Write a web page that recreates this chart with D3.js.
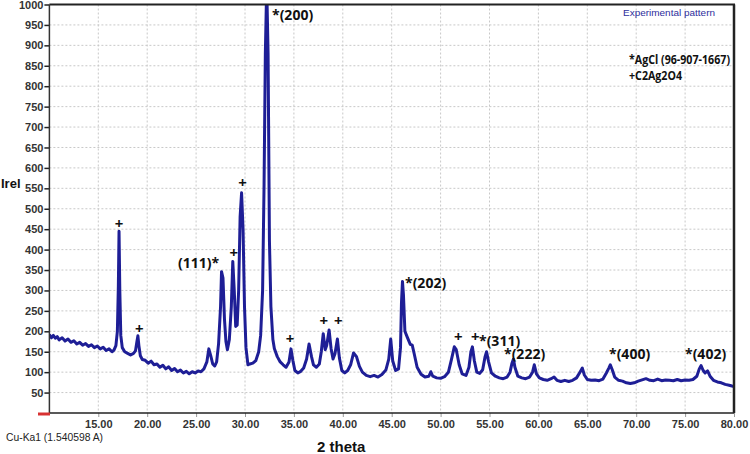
<!DOCTYPE html>
<meta charset="utf-8">
<script src="https://d3js.org/d3.v7.min.js"></script>
<style>
body { margin: 0; background: #fff; }
.tick text { font-family: "Liberation Sans", Arial, sans-serif; font-weight: bold; font-size: 11px; fill: #333; }
.ann { font-family: "Open Sans", sans-serif; font-weight: bold; font-size: 14px; fill: #111; }
</style>
<body></body>
<script>

// 2 theta positions (deg) and relative intensity
var twoTheta = [
  10.0, 10.2, 10.4, 10.6, 10.8, 11.0, 11.3, 11.6, 11.9, 12.2, 12.5, 12.8, 13.1, 13.4, 13.7,
  14.0, 14.3, 14.6, 14.9, 15.2, 15.5, 15.8, 16.1, 16.4, 16.6, 16.8, 16.95, 17.05, 17.12, 17.2,
  17.3, 17.45, 17.7, 18.0, 18.3, 18.6, 18.8, 18.95, 19.05, 19.15, 19.3, 19.5, 19.8, 20.1, 20.4,
  20.7, 21.0, 21.3, 21.6, 21.9, 22.2, 22.5, 22.8, 23.1, 23.4, 23.7, 24.0, 24.3, 24.6, 24.9,
  25.2, 25.5, 25.8, 26.1, 26.3, 26.5, 26.7, 26.9, 27.1, 27.3, 27.5, 27.6, 27.75, 27.9, 28.05,
  28.2, 28.4, 28.6, 28.75, 28.9, 29.05, 29.2, 29.35, 29.5, 29.65, 29.8, 29.95, 30.1, 30.3, 30.5,
  30.8, 31.1, 31.4, 31.6, 31.8, 31.95, 32.08, 32.18, 32.26, 32.36, 32.5, 32.65, 32.85, 33.0, 33.3,
  33.6, 33.9, 34.2, 34.5, 34.7, 34.9, 35.1, 35.4, 35.7, 36.0, 36.3, 36.55, 36.8, 37.0, 37.3,
  37.6, 37.8, 38.0, 38.2, 38.35, 38.6, 38.8, 39.0, 39.2, 39.45, 39.65, 39.9, 40.2, 40.5, 40.8,
  41.1, 41.4, 41.7, 42.0, 42.4, 42.8, 43.2, 43.6, 44.0, 44.4, 44.7, 44.9, 45.1, 45.4, 45.7,
  45.9, 46.0, 46.1, 46.2, 46.35, 46.6, 46.9, 47.1, 47.3, 47.6, 48.0, 48.4, 48.8, 49.0, 49.2,
  49.6, 50.0, 50.4, 50.8, 51.1, 51.4, 51.6, 51.9, 52.2, 52.6, 52.9, 53.1, 53.25, 53.45, 53.7,
  54.0, 54.3, 54.55, 54.7, 54.9, 55.2, 55.6, 56.0, 56.4, 56.8, 57.1, 57.3, 57.45, 57.6, 57.9,
  58.3, 58.7, 59.1, 59.4, 59.58, 59.8, 60.1, 60.5, 60.9, 61.3, 61.6, 61.9, 62.3, 62.7, 63.1,
  63.5, 63.9, 64.25, 64.49, 64.7, 65.0, 65.4, 65.8, 66.2, 66.6, 66.95, 67.2, 67.35, 67.55, 67.8,
  68.2, 68.6, 69.0, 69.4, 69.8, 70.2, 70.6, 71.0, 71.4, 71.8, 72.2, 72.6, 73.0, 73.4, 73.8,
  74.2, 74.6, 75.0, 75.4, 75.8, 76.2, 76.45, 76.63, 76.85, 77.05, 77.3, 77.55, 77.9, 78.3, 78.7,
  79.1, 79.5, 79.8, 80.0
];
var irel = [
  192, 184, 190, 183, 187, 179, 184, 176, 181, 173, 177, 169, 173, 166, 170,
  163, 167, 160, 164, 157, 161, 153, 157, 150, 154, 165, 200, 310, 445, 300,
  190, 160, 150, 146, 142, 146, 152, 175, 189, 165, 140, 131, 129, 122, 127,
  118, 120, 112, 117, 108, 113, 104, 109, 101, 105, 98, 102, 96, 101, 98,
  103, 101, 108, 125, 157, 140, 120, 115, 125, 170, 260, 346, 330, 230, 175,
  155, 180, 260, 371, 300, 212, 215, 300, 480, 539, 450, 260, 160, 118, 120,
  122, 128, 150, 190, 300, 560, 880, 1000, 1000, 880, 420, 260, 180, 158, 138,
  125, 118, 112, 125, 157, 128, 104, 98, 102, 110, 132, 169, 138, 118, 112,
  120, 150, 194, 155, 165, 203, 158, 132, 145, 181, 135, 104, 98, 104, 118,
  147, 138, 114, 100, 92, 89, 92, 88, 94, 105, 132, 181, 128, 104, 108,
  160, 270, 322, 290, 200, 185, 168, 166, 145, 112, 95, 88, 90, 101, 90,
  86, 85, 89, 100, 130, 162, 155, 118, 96, 92, 112, 150, 162, 128, 100,
  97, 106, 138, 150, 126, 98, 90, 86, 84, 88, 100, 122, 132, 112, 90,
  86, 84, 88, 100, 118, 96, 86, 82, 80, 84, 88, 80, 77, 80, 77,
  80, 86, 100, 110, 93, 82, 80, 81, 79, 83, 98, 110, 118, 106, 88,
  80, 78, 74, 72, 74, 78, 81, 84, 80, 79, 83, 79, 81, 80, 79,
  82, 79, 81, 80, 82, 90, 108, 116, 104, 98, 103, 90, 80, 76, 74,
  70, 68, 66, 65
];

var xTicks = [15, 20, 25, 30, 35, 40, 45, 50, 55, 60, 65, 70, 75, 80];
var yTicks = [50, 100, 150, 200, 250, 300, 350, 400, 450, 500, 550, 600, 650, 700, 750, 800, 850, 900, 950, 1000];

// peak labels
var peakLabels = ["*(200)", "(111)*", "*(202)", "*(311)", "*(222)", "*(400)", "*(402)"];
var plusMarks = [17.12, 19.2, 28.85, 29.75, 34.6, 38.05, 39.55, 51.8, 53.55];
var legendLines = ["*AgCl (96-907-1667)", "+C2Ag2O4"];

var W = 750, H = 454;
var plotL = 49.4, plotR = 734, plotT = 4.5, plotB = 413;

var svg = d3.select("body").append("svg")
    .attr("width", W)
    .attr("height", H);

var x = d3.scaleLinear().domain([10, 80]).range([plotL, plotR]);
var y = d3.scaleLinear().domain([0, 1000]).range([plotB, plotT]);

// grid
svg.append("g").selectAll("line").data(xTicks.slice(0, -1)).enter().append("line")
    .attr("x1", d => x(d)).attr("x2", d => x(d))
    .attr("y1", plotT).attr("y2", plotB)
    .attr("stroke", "#c8c8c8").attr("stroke-dasharray", "2,2");
svg.append("g").selectAll("line").data(yTicks.slice(0, -1)).enter().append("line")
    .attr("x1", plotL).attr("x2", plotR)
    .attr("y1", d => y(d)).attr("y2", d => y(d))
    .attr("stroke", "#c8c8c8").attr("stroke-dasharray", "2,2");

// axes
var xAxis = d3.axisBottom(x).tickValues(xTicks).tickFormat(d3.format(".2f")).tickSize(4).tickPadding(3);
var yAxis = d3.axisLeft(y).tickValues(yTicks).tickFormat(d3.format("d")).tickSize(5).tickPadding(1);

var gx = svg.append("g").attr("transform", "translate(0," + plotB + ")").call(xAxis);
gx.select(".domain").remove();
gx.selectAll(".tick line").attr("stroke", "#999");

var gy = svg.append("g").attr("transform", "translate(" + plotL + ",0)").call(yAxis);
gy.select(".domain").remove();
gy.selectAll(".tick line").attr("stroke", "#222").attr("stroke-width", 1.5);

// pattern
var pts = twoTheta.map((t, i) => [t, irel[i]]);
svg.append("clipPath").attr("id", "clip").append("rect")
    .attr("x", plotL).attr("y", plotT).attr("width", plotR - plotL).attr("height", plotB - plotT);
svg.append("path")
    .datum(pts)
    .attr("clip-path", "url(#clip)")
    .attr("fill", "none")
    .attr("stroke", "#1e1e96")
    .attr("stroke-width", 3)
    .attr("stroke-linejoin", "round")
    .attr("d", d3.line().x(d => x(d[0])).y(d => y(d[1])));

// frame
svg.append("line").attr("x1", plotL).attr("x2", plotR + 1).attr("y1", plotT).attr("y2", plotT)
    .attr("stroke", "#222").attr("stroke-width", 2);
svg.append("line").attr("x1", plotR).attr("x2", plotR).attr("y1", plotT).attr("y2", plotB)
    .attr("stroke", "#222").attr("stroke-width", 2.5);
svg.append("line").attr("x1", plotL).attr("x2", plotL).attr("y1", plotT).attr("y2", plotB)
    .attr("stroke", "#333").attr("stroke-width", 1.5);
svg.append("line").attr("x1", plotL).attr("x2", plotR).attr("y1", plotB).attr("y2", plotB)
    .attr("stroke", "#222").attr("stroke-width", 1.5);
svg.append("line").attr("x1", 38).attr("x2", 50).attr("y1", plotB + 1).attr("y2", plotB + 1)
    .attr("stroke", "#d83232").attr("stroke-width", 3);

// peak labels
var labelPos = {
  "*(200)": [272, 20], "(111)*": [178, 268], "*(202)": [405, 288], "*(311)": [479, 346],
  "*(222)": [504, 359], "*(400)": [609, 359], "*(402)": [685, 359]
};
svg.append("g").selectAll("text").data(peakLabels).enter().append("text")
    .attr("class", "ann")
    .attr("x", d => labelPos[d][0])
    .attr("y", d => labelPos[d][1])
    .text(d => d);

var plusY = {17.12: 229, 19.2: 334, 28.85: 258, 29.75: 188, 34.6: 344, 38.05: 326, 39.55: 326, 51.8: 342, 53.55: 342};
svg.append("g").selectAll("text").data(plusMarks).enter().append("text")
    .attr("class", "ann")
    .style("font-size", "15px")
    .attr("text-anchor", "middle")
    .attr("x", d => x(d))
    .attr("y", d => plusY[d])
    .text("+");

// legend
svg.append("g").selectAll("text").data(legendLines).enter().append("text")
    .attr("class", "ann")
    .style("font-size", "13px")
    .attr("x", 629)
    .attr("y", (d, i) => 64 + i * 16)
    .attr("textLength", (d, i) => i === 0 ? 101 : 53)
    .attr("lengthAdjust", "spacingAndGlyphs")
    .text(d => d);

svg.append("text")
    .attr("x", 623).attr("y", 16)
    .attr("textLength", 92).attr("lengthAdjust", "spacingAndGlyphs")
    .style("font-family", "Liberation Sans, Arial, sans-serif")
    .style("font-size", "9px")
    .style("fill", "#2d2d9c")
    .text("Experimental pattern");

// axis titles
svg.append("text")
    .attr("x", 1).attr("y", 188)
    .style("font-family", "Liberation Sans, Arial, sans-serif")
    .style("font-weight", "bold").style("font-size", "13px").style("fill", "#111")
    .text("Irel");

svg.append("text")
    .attr("x", 317).attr("y", 452)
    .style("font-family", "Liberation Sans, Arial, sans-serif")
    .style("font-weight", "bold").style("font-size", "15px").style("fill", "#111")
    .text("2 theta");

svg.append("text")
    .attr("x", 6).attr("y", 441)
    .attr("textLength", 97).attr("lengthAdjust", "spacingAndGlyphs")
    .style("font-family", "Liberation Sans, Arial, sans-serif")
    .style("font-size", "10px").style("fill", "#222")
    .text("Cu-Ka1 (1.540598 A)");

</script>
